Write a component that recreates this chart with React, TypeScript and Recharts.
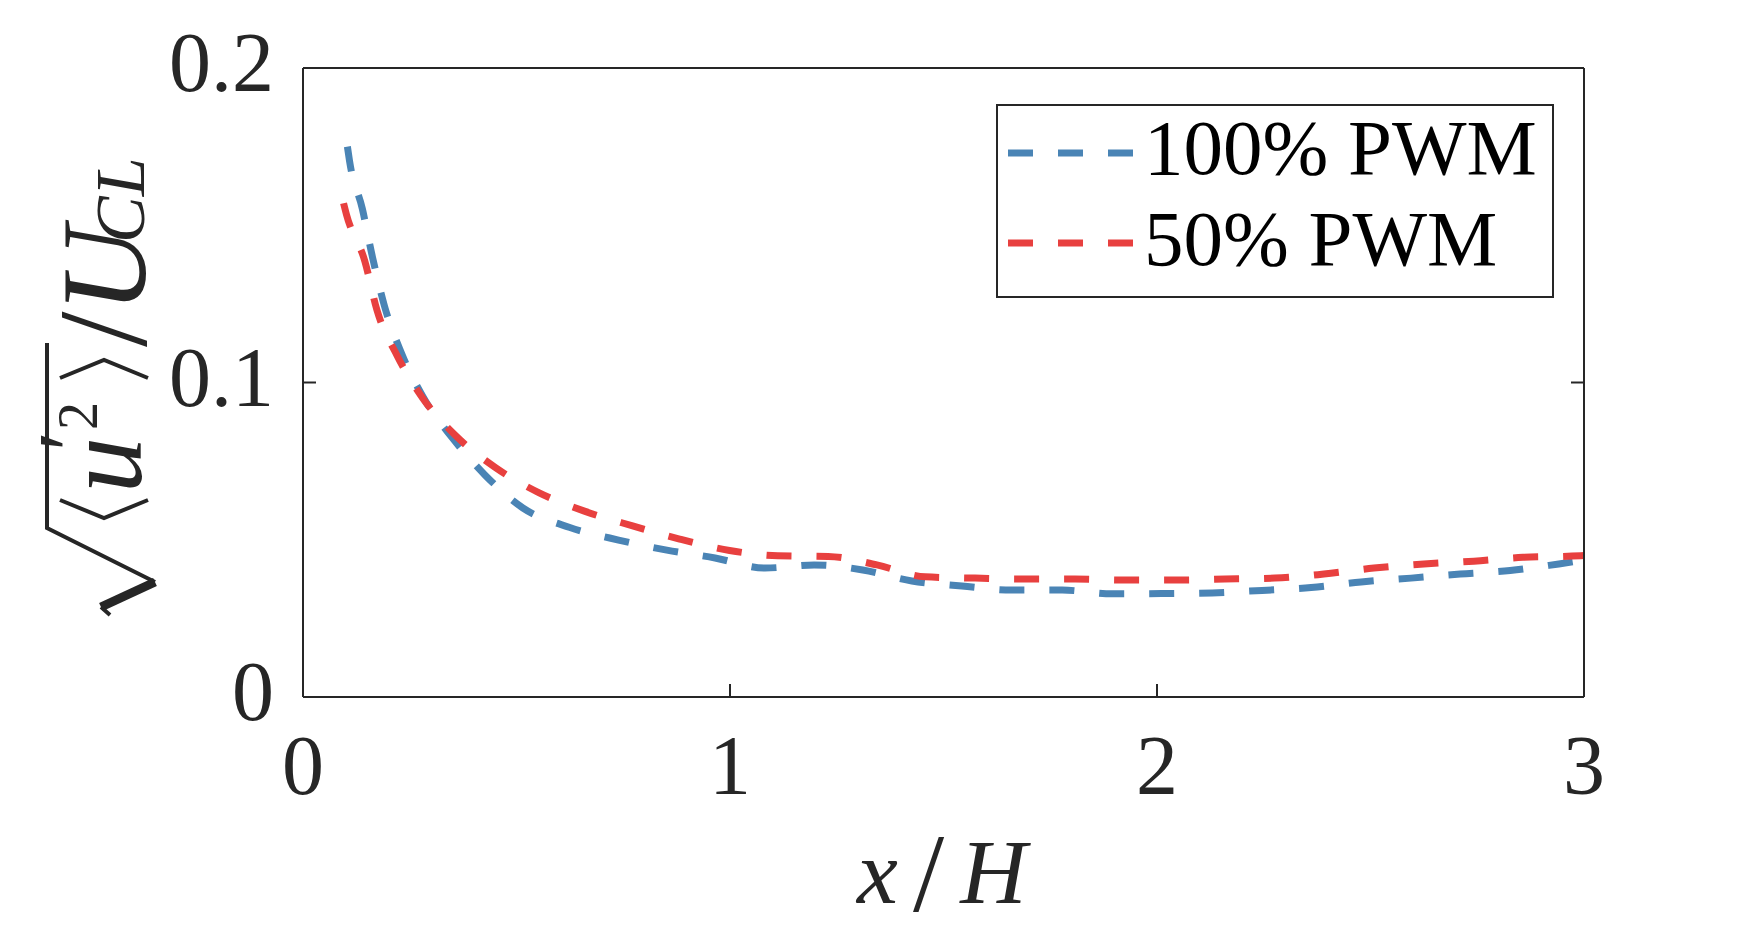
import { LineChart, Line, XAxis, YAxis, Legend } from "recharts"

const xTicks = [0, 1, 2, 3]
const xTickLabels = ["0", "1", "2", "3"]
const yTicks = [0, 0.1, 0.2]
const yTickLabels = ["0", "0.1", "0.2"]

const seriesNames = ["100% PWM", "50% PWM"]

// x/H and sqrt(<u'^2>)/U_CL
const pwm100X = [0.104, 0.109, 0.139, 0.163, 0.191, 0.23, 0.282, 0.352, 0.426, 0.515, 0.625, 0.739, 0.852, 0.965, 1.082, 1.197, 1.311, 1.426, 1.543, 1.66, 1.778, 1.895, 2.012, 2.129, 2.246, 2.361, 2.478, 2.595, 2.71, 2.827, 2.941, 3.0]
const pwm100Y = [0.175, 0.1704, 0.1552, 0.1397, 0.1242, 0.1095, 0.0952, 0.082, 0.0706, 0.0601, 0.0539, 0.0499, 0.0467, 0.0442, 0.041, 0.042, 0.0404, 0.0369, 0.0353, 0.034, 0.034, 0.0328, 0.0329, 0.0331, 0.0339, 0.0348, 0.0366, 0.0378, 0.0391, 0.0402, 0.0423, 0.0435]

const pwm50X = [0.095, 0.102, 0.145, 0.173, 0.221, 0.28, 0.356, 0.45, 0.552, 0.659, 0.772, 0.882, 0.999, 1.112, 1.23, 1.344, 1.457, 1.574, 1.691, 1.808, 1.925, 2.042, 2.159, 2.276, 2.391, 2.508, 2.625, 2.742, 2.857, 2.972, 3.0]
const pwm50Y = [0.157, 0.1533, 0.1385, 0.1231, 0.1084, 0.0951, 0.0833, 0.073, 0.065, 0.0591, 0.0544, 0.0502, 0.0466, 0.0449, 0.0447, 0.042, 0.0382, 0.0378, 0.0375, 0.0375, 0.0372, 0.0372, 0.0375, 0.0378, 0.0391, 0.041, 0.0423, 0.0432, 0.0444, 0.0448, 0.045]

const pwm100 = pwm100X.map((x, i) => ({ x, v: pwm100Y[i] }))
const pwm50 = pwm50X.map((x, i) => ({ x, v: pwm50Y[i] }))

const INK = "#262626"
const BLUE = "#4A84B5"
const RED = "#E8403F"
const SERIF = '"Liberation Serif", "Times New Roman", serif'

const axisStyle = { stroke: INK, strokeWidth: 2 }

function XTick(props: any) {
  const { x, y, payload } = props
  const label = xTickLabels[xTicks.indexOf(payload.value)]
  return (
    <text x={x} y={y + 97} textAnchor="middle" fontSize={84} fontFamily={SERIF} fill={INK}>
      {label}
    </text>
  )
}

function YTick(props: any) {
  const { x, y, payload } = props
  const label = yTickLabels[yTicks.indexOf(payload.value)]
  return (
    <text x={x - 29} y={y + 23} textAnchor="end" fontSize={84} fontFamily={SERIF} fill={INK}>
      {label}
    </text>
  )
}

const NoTick = () => <g />

function XLabel(props: any) {
  const vb = props.viewBox
  const cx = vb.x + vb.width / 2
  const by = vb.y + 206
  return (
    <g fill={INK} fontFamily={SERIF}>
      <text x={cx - 66} y={by} fontSize={92} fontStyle="italic" textAnchor="middle">x</text>
      <text x={cx - 15} y={by + 8} fontSize={112} textAnchor="middle">/</text>
      <text x={cx + 50} y={by} fontSize={92} fontStyle="italic" textAnchor="middle">H</text>
    </g>
  )
}

// sqrt(<u'^2>)/U_CL, laid out horizontally then turned upright
function YLabel(props: any) {
  const vb = props.viewBox
  const ox = vb.x + 145
  const oy = vb.y + vb.height - 86
  return (
    <g transform={`translate(${ox},${oy}) rotate(-90)`} fontFamily={SERIF}>
      <g stroke={INK} fill="none" strokeLinejoin="miter">
        <path d="M -4,-35 L 4,-44" strokeWidth={4} />
        <path d="M 4,-44 L 29,10" strokeWidth={9} />
        <path d="M 29,10 L 83,-98 L 268,-98" strokeWidth={4} />
        <path d="M 111,-85 L 93,-41 L 111,3" strokeWidth={4} />
        <path d="M 233,-85 L 251,-41 L 233,3" strokeWidth={4} />
      </g>
      <g fill={INK}>
        <text x={118} y={-4} fontSize={112} fontStyle="italic">u</text>
        <text x={160} y={-44} fontSize={92}>′</text>
        <text x={181} y={-48} fontSize={56}>2</text>
        <text x={264} y={1} fontSize={128}>/</text>
        <text x={298} y={0} fontSize={120} fontStyle="italic">U</text>
        <text x={368} y={-1} fontSize={70} fontStyle="italic">CL</text>
      </g>
    </g>
  )
}

function LegendBox(props: any) {
  const { payload } = props
  return (
    <svg width={558} height={194} style={{ display: "block" }}>
      <rect x={1} y={1} width={556} height={192} fill="#fff" stroke={INK} strokeWidth={2} />
      {(payload || []).map((e: any, i: number) => (
        <g key={e.value}>
          <line x1={12} x2={137} y1={49 + i * 90} y2={49 + i * 90} stroke={e.color} strokeWidth={7} strokeDasharray="25 25" />
          <text x={148} y={70 + i * 91} fontSize={79} fontFamily={SERIF} fill="#000">
            {e.value}
          </text>
        </g>
      ))}
    </svg>
  )
}

export default function App() {
  return (
    <div style={{ position: "absolute", left: 0, top: 0, width: 1750, height: 938, background: "#fff" }}>
      <LineChart width={1750} height={938} margin={{ top: 67, right: 165, bottom: 141, left: 0 }}>
        <XAxis
          xAxisId="b"
          dataKey="x"
          type="number"
          domain={[0, 3]}
          ticks={xTicks}
          height={100}
          tickSize={-13}
          tickMargin={13}
          tick={XTick}
          axisLine={axisStyle}
          tickLine={axisStyle}
          allowDataOverflow
          label={{ content: XLabel }}
        />
        <XAxis
          xAxisId="t"
          orientation="top"
          type="number"
          domain={[0, 3]}
          ticks={xTicks}
          height={1}
          tickSize={-13}
          tick={NoTick}
          axisLine={axisStyle}
          tickLine={axisStyle}
          allowDataOverflow
        />
        <YAxis
          yAxisId="l"
          type="number"
          domain={[0, 0.2]}
          ticks={yTicks}
          width={303}
          tickSize={-13}
          tickMargin={13}
          tick={YTick}
          axisLine={axisStyle}
          tickLine={axisStyle}
          allowDataOverflow
          label={{ content: YLabel }}
        />
        <YAxis
          yAxisId="r"
          orientation="right"
          type="number"
          domain={[0, 0.2]}
          ticks={yTicks}
          width={1}
          tickSize={-13}
          tick={NoTick}
          axisLine={axisStyle}
          tickLine={axisStyle}
          allowDataOverflow
        />
        <Legend
          content={LegendBox}
          layout="horizontal"
          verticalAlign="middle"
          align="center"
          wrapperStyle={{ left: 996, top: 104, width: 558, height: 194 }}
        />
        <Line
          xAxisId="b"
          yAxisId="l"
          data={pwm100}
          dataKey="v"
          name={seriesNames[0]}
          type="monotone"
          stroke={BLUE}
          strokeWidth={7}
          strokeDasharray="25 25"
          dot={false}
          activeDot={false}
          isAnimationActive={false}
        />
        <Line
          xAxisId="b"
          yAxisId="l"
          data={pwm50}
          dataKey="v"
          name={seriesNames[1]}
          type="monotone"
          stroke={RED}
          strokeWidth={7}
          strokeDasharray="25 25"
          dot={false}
          activeDot={false}
          isAnimationActive={false}
        />
      </LineChart>
    </div>
  )
}
